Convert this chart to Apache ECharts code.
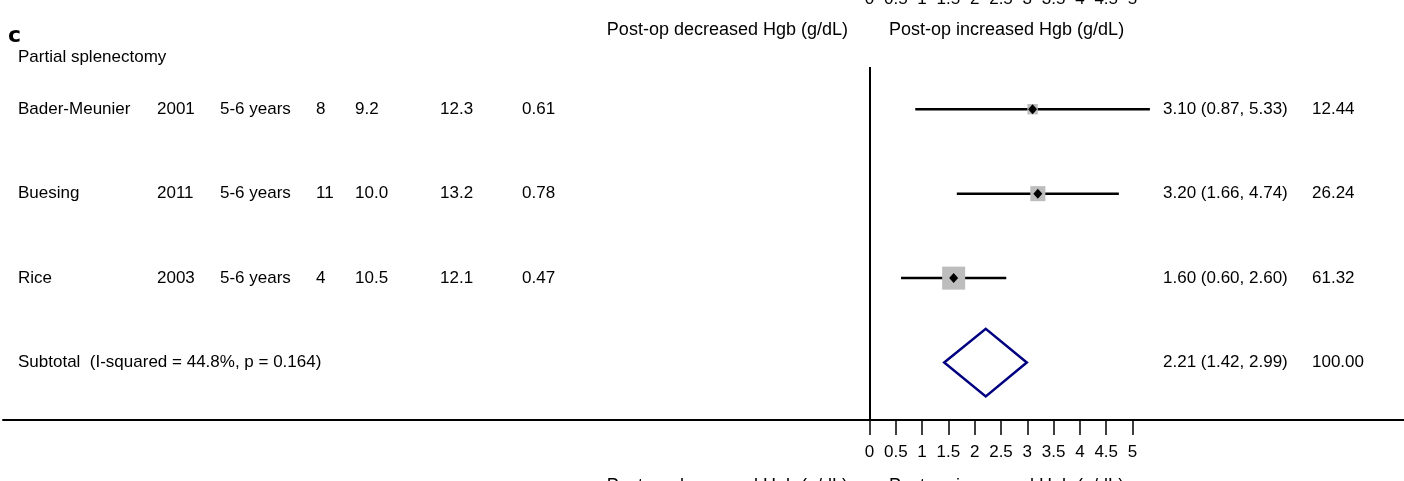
<!DOCTYPE html>
<html><head><meta charset="utf-8">
<script src="https://cdn.jsdelivr.net/npm/echarts@6/dist/echarts.min.js"></script>
<style>html,body{margin:0;padding:0;background:#fff}#c{width:1404px;height:481px}</style>
</head><body><div id="c"></div>
<script>
// ---- data ----
const panelLabel = 'c';
const groupLabel = 'Partial splenectomy';
const studies = ['Bader-Meunier', 'Buesing', 'Rice'];
const years = ['2001', '2011', '2003'];
const ages = ['5-6 years', '5-6 years', '5-6 years'];
const nPatients = ['8', '11', '4'];
const preHgb = ['9.2', '10.0', '10.5'];
const postHgb = ['12.3', '13.2', '12.1'];
const sdValues = ['0.61', '0.78', '0.47'];
const estimates = [3.10, 3.20, 1.60];
const lowerCI = [0.87, 1.66, 0.60];
const upperCI = [5.33, 4.74, 2.60];
const weights = [12.44, 26.24, 61.32];
const subtotalLabel = 'Subtotal  (I-squared = 44.8%, p = 0.164)';
const subtotalEst = 2.21;
const subtotalLower = 1.42;
const subtotalUpper = 2.99;
const subtotalWeight = 100.00;
const xTicks = [0, 0.5, 1, 1.5, 2, 2.5, 3, 3.5, 4, 4.5, 5];
const xTickLabels = ['0', '0.5', '1', '1.5', '2', '2.5', '3', '3.5', '4', '4.5', '5'];
const titleLeft = 'Post-op decreased Hgb (g/dL)';
const titleRight = 'Post-op increased Hgb (g/dL)';

// ---- layout ----
const FONT = '"Liberation Sans", Arial, sans-serif';
const FS = 17;
const colX = [18, 157, 220, 316, 355, 440, 522];
const effX = 1163, wX = 1312;
const subRow = studies.length;
const fmt2 = v => v.toFixed(2);

const chart = echarts.init(document.getElementById('c'), null, {renderer: 'canvas'});

const tableData = studies.map((s, i) => ({
  value: [0, i],
  cells: [s, years[i], ages[i], nPatients[i], preHgb[i], postHgb[i], sdValues[i]],
  eff: fmt2(estimates[i]) + ' (' + fmt2(lowerCI[i]) + ', ' + fmt2(upperCI[i]) + ')',
  w: fmt2(weights[i])
}));
tableData.push({
  value: [0, subRow],
  cells: [subtotalLabel],
  eff: fmt2(subtotalEst) + ' (' + fmt2(subtotalLower) + ', ' + fmt2(subtotalUpper) + ')',
  w: fmt2(subtotalWeight)
});

function txt(text, x, y, align) {
  return {type: 'text', x: x, y: y, silent: true,
    style: {text: text, fill: '#000', fontSize: FS, fontFamily: FONT, align: align || 'left', verticalAlign: 'middle'}};
}

const labelMap = {};
xTicks.forEach((t, i) => labelMap[t] = xTickLabels[i]);

chart.setOption({
  animation: false,
  grid: {left: 3, right: 0, top: 67, bottom: 61, containLabel: false, outerBoundsMode: 'none'},
  xAxis: [{
    type: 'value', min: -16.47, max: 10.16, position: 'bottom',
    axisLine: {show: true, onZero: false, lineStyle: {color: '#000', width: 2}},
    axisTick: {show: true, customValues: xTicks, length: 15, lineStyle: {color: '#000', width: 1.5}},
    axisLabel: {show: true, customValues: xTicks, margin: 24, color: '#000', fontSize: FS, fontFamily: FONT,
      formatter: v => labelMap[v]},
    splitLine: {show: false}
  }, {
    type: 'value', min: -16.47, max: 10.16, position: 'top', offset: 51,
    axisLine: {show: false}, axisTick: {show: false},
    axisLabel: {show: true, customValues: xTicks, margin: 8, color: '#000', fontSize: FS, fontFamily: FONT,
      formatter: v => labelMap[v]},
    splitLine: {show: false}
  }],
  yAxis: {
    type: 'value', min: -0.5, max: 3.68, inverse: true,
    axisLine: {show: false}, axisTick: {show: false}, axisLabel: {show: false}, splitLine: {show: false}
  },
  graphic: [
    {type: 'text', x: 8, y: 36, style: {text: panelLabel, fill: '#000', font: 'bold 22px "DejaVu Sans", sans-serif', verticalAlign: 'middle'}},
    {type: 'text', x: 18, y: 57, style: {text: groupLabel, fill: '#000', fontSize: FS, fontFamily: FONT, verticalAlign: 'middle'}},
    {type: 'text', x: 848, y: 30, style: {text: titleLeft, fill: '#000', fontSize: 18, fontFamily: FONT, align: 'right', verticalAlign: 'middle'}},
    {type: 'text', x: 889, y: 30, style: {text: titleRight, fill: '#000', fontSize: 18, fontFamily: FONT, align: 'left', verticalAlign: 'middle'}},
    {type: 'text', x: 848, y: 486, style: {text: titleLeft, fill: '#000', fontSize: 18, fontFamily: FONT, align: 'right', verticalAlign: 'middle'}},
    {type: 'text', x: 889, y: 486, style: {text: titleRight, fill: '#000', fontSize: 18, fontFamily: FONT, align: 'left', verticalAlign: 'middle'}}
  ],
  series: [
    {
      type: 'custom', name: 'ci', z: 2,
      data: studies.map((s, i) => [lowerCI[i], upperCI[i], i]),
      renderItem: (params, api) => {
        const a = api.coord([api.value(0), api.value(2)]);
        const b = api.coord([api.value(1), api.value(2)]);
        return {type: 'line', shape: {x1: a[0], y1: a[1], x2: b[0], y2: b[1]},
          style: {stroke: '#000', lineWidth: 2.5}};
      },
      markLine: {
        silent: true, symbol: ['none', 'none'], animation: false,
        label: {show: false},
        lineStyle: {color: '#000', width: 2, type: 'solid'},
        data: [{xAxis: 0}]
      }
    },
    {
      type: 'scatter', name: 'weight', z: 3, symbol: 'rect',
      data: studies.map((s, i) => [estimates[i], i, weights[i]]),
      symbolSize: v => Math.sqrt(v[2]) * 2.94,
      itemStyle: {color: '#bdbdbd', opacity: 1}
    },
    {
      type: 'scatter', name: 'point', z: 4, symbol: 'diamond', symbolSize: [9, 10],
      data: studies.map((s, i) => [estimates[i], i]),
      itemStyle: {color: '#000', opacity: 1}
    },
    {
      type: 'custom', name: 'pooled', z: 4,
      data: [[subtotalLower, subtotalEst, subtotalUpper, subRow]],
      renderItem: (params, api) => {
        const r = api.value(3);
        const p1 = api.coord([api.value(0), r]);
        const p2 = api.coord([api.value(1), r - 0.4]);
        const p3 = api.coord([api.value(2), r]);
        const p4 = api.coord([api.value(1), r + 0.4]);
        return {type: 'polygon', shape: {points: [p1, p2, p3, p4]},
          style: {fill: 'none', stroke: '#000080', lineWidth: 2.5}};
      }
    },
    {
      type: 'custom', name: 'table', z: 5,
      data: tableData,
      renderItem: (params, api) => {
        const d = tableData[params.dataIndex];
        const y = api.coord([0, api.value(1)])[1];
        const children = d.cells.map((c, k) => txt(c, colX[k], y));
        children.push(txt(d.eff, effX, y));
        children.push(txt(d.w, wX, y));
        return {type: 'group', children: children};
      }
    }
  ]
});
</script>
</body></html>
